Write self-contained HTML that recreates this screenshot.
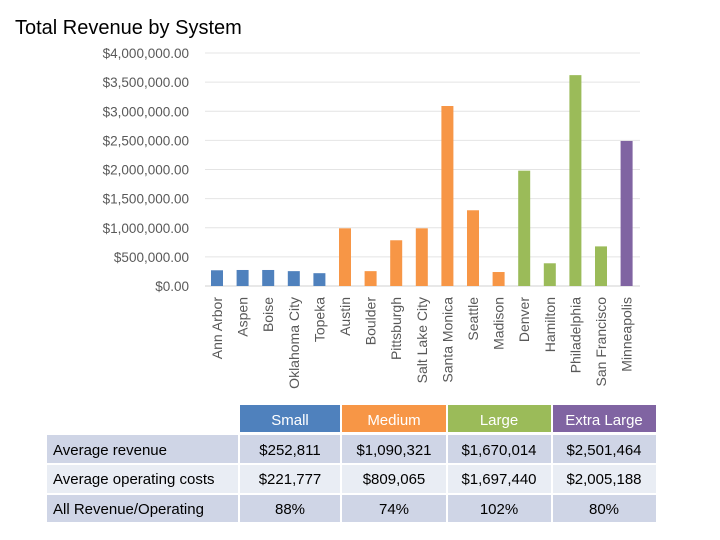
<!DOCTYPE html>
<html><head><meta charset="utf-8"><style>
body{margin:0;width:720px;height:540px;background:#fff;font-family:"Liberation Sans",sans-serif;overflow:hidden;position:relative}
</style></head><body>
<svg width="720" height="540" style="position:absolute;left:0;top:0">
<text x="15" y="34" font-size="20" fill="#000">Total Revenue by System</text>
<g id="grid"></g><g id="bars"></g><g id="xlabels"></g>
<g font-size="15" fill="#000">
<rect x="240" y="405" width="100" height="27" fill="#4f81bd"/>
<rect x="342" y="405" width="104" height="27" fill="#f79646"/>
<rect x="448" y="405" width="103" height="27" fill="#9bbb59"/>
<rect x="553" y="405" width="103" height="27" fill="#8064a2"/>
<g fill="#fff" text-anchor="middle"><text x="290" y="425">Small</text><text x="394" y="425">Medium</text><text x="499" y="425">Large</text><text x="604" y="425">Extra Large</text></g>
<g fill="#cfd5e6"><rect x="47" y="435" width="191" height="28"/><rect x="240" y="435" width="100" height="28"/><rect x="342" y="435" width="104" height="28"/><rect x="448" y="435" width="103" height="28"/><rect x="553" y="435" width="103" height="28"/></g>
<g fill="#e9edf4"><rect x="47" y="465" width="191" height="28"/><rect x="240" y="465" width="100" height="28"/><rect x="342" y="465" width="104" height="28"/><rect x="448" y="465" width="103" height="28"/><rect x="553" y="465" width="103" height="28"/></g>
<g fill="#cfd5e6"><rect x="47" y="495" width="191" height="27"/><rect x="240" y="495" width="100" height="27"/><rect x="342" y="495" width="104" height="27"/><rect x="448" y="495" width="103" height="27"/><rect x="553" y="495" width="103" height="27"/></g>
<text x="53" y="455">Average revenue</text><text x="53" y="484">Average operating costs</text><text x="53" y="514">All Revenue/Operating</text>
<g text-anchor="middle">
<text x="290" y="455">$252,811</text><text x="394" y="455">$1,090,321</text><text x="499" y="455">$1,670,014</text><text x="604" y="455">$2,501,464</text>
<text x="290" y="484">$221,777</text><text x="394" y="484">$809,065</text><text x="499" y="484">$1,697,440</text><text x="604" y="484">$2,005,188</text>
<text x="290" y="514">88%</text><text x="394" y="514">74%</text><text x="499" y="514">102%</text><text x="604" y="514">80%</text>
</g></g>
</svg>
<script>
const categories=["Ann Arbor","Aspen","Boise","Oklahoma City","Topeka","Austin","Boulder","Pittsburgh","Salt Lake City","Santa Monica","Seattle","Madison","Denver","Hamilton","Philadelphia","San Francisco","Minneapolis"];
const revenue=[270000,275000,275000,255000,220000,990000,255000,785000,990000,3090000,1300000,240000,1980000,390000,3620000,680000,2490000];
const groups=[0,0,0,0,0,1,1,1,1,1,1,1,2,2,2,2,3];
const groupColors=["#4f81bd","#f79646","#9bbb59","#8064a2"];
const yTicks=[0,500000,1000000,1500000,2000000,2500000,3000000,3500000,4000000];
const yTickLabels=["$0.00","$500,000.00","$1,000,000.00","$1,500,000.00","$2,000,000.00","$2,500,000.00","$3,000,000.00","$3,500,000.00","$4,000,000.00"];
const NS="http://www.w3.org/2000/svg";
const y0=286,y1=53,vmax=4000000;
const yS=v=>y0-(v/vmax)*(y0-y1);
const xS=i=>217+i*25.6;
const grid=document.getElementById('grid'),bars=document.getElementById('bars'),xl=document.getElementById('xlabels');
yTicks.forEach((t,i)=>{
 const l=document.createElementNS(NS,'line');
 l.setAttribute('x1',205);l.setAttribute('x2',640);l.setAttribute('y1',yS(t));l.setAttribute('y2',yS(t));
 l.setAttribute('stroke',i==0?'#d0d0d0':'#e4e4e4');
 
 
 grid.appendChild(l);
 const tx=document.createElementNS(NS,'text');
 tx.setAttribute('x',189);tx.setAttribute('y',yS(t)+5);tx.setAttribute('text-anchor','end');
 tx.setAttribute('font-size','13.5');tx.setAttribute('fill','#595959');
 tx.textContent=yTickLabels[i];
 
 
 grid.appendChild(tx);
});
categories.forEach((c,i)=>{
 const r=document.createElementNS(NS,'rect');
 r.setAttribute('x',xS(i)-6);r.setAttribute('width',12);
 r.setAttribute('y',yS(revenue[i]));r.setAttribute('height',y0-yS(revenue[i]));
 r.setAttribute('fill',groupColors[groups[i]]);
 
 
 bars.appendChild(r);
 const t=document.createElementNS(NS,'text');
 t.setAttribute('transform','translate('+(xS(i)+5)+',297) rotate(-90)');
 t.setAttribute('text-anchor','end');t.setAttribute('font-size','14');t.setAttribute('fill','#595959');
 t.textContent=c;
 
 
 xl.appendChild(t);
});
</script>
</body></html>
